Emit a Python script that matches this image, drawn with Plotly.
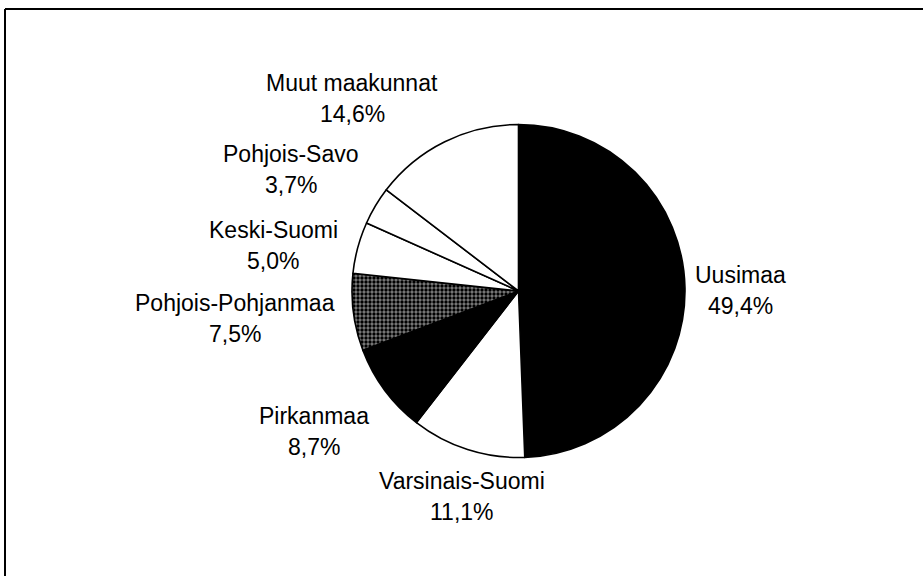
import plotly.graph_objects as go

# Data
regions = ["Uusimaa", "Varsinais-Suomi", "Pirkanmaa", "Pohjois-Pohjanmaa",
           "Keski-Suomi", "Pohjois-Savo", "Muut maakunnat"]
shares = [49.4, 11.1, 8.7, 7.5, 5.0, 3.7, 14.6]

# Styles
slice_colors = ["#000000", "#ffffff", "#000000", "#5e5e5e", "#ffffff", "#ffffff", "#ffffff"]
pattern_shapes = ["", "", "", ".", "", "", ""]

# Label centres in pixels (x, y of first line)
label_pos = {
    "Uusimaa": (740, 275),
    "Varsinais-Suomi": (462, 481),
    "Pirkanmaa": (314, 416),
    "Pohjois-Pohjanmaa": (235, 303),
    "Keski-Suomi": (273, 230),
    "Pohjois-Savo": (291, 154),
    "Muut maakunnat": (352, 83),
}

W, H = 923, 576
LINE_GAP = 31
FONT = dict(family="Liberation Sans, Arial, sans-serif", size=23, color="#000000")

fig = go.Figure()
cx, cy, r = 518.5, 291, 166.5
fig.add_trace(go.Pie(
    labels=regions,
    values=shares,
    sort=False,
    direction="clockwise",
    rotation=0,
    textinfo="none",
    hoverinfo="label+percent",
    showlegend=False,
    marker=dict(
        colors=slice_colors,
        line=dict(color="#000000", width=1.6),
        pattern=dict(shape=pattern_shapes, fgcolor="#000000", bgcolor="#808080",
                     size=4, solidity=0.55),
    ),
    domain=dict(x=[(cx - r) / W, (cx + r) / W], y=[1 - (cy + r) / H, 1 - (cy - r) / H]),
))

annotations = []
for name, val in zip(regions, shares):
    x, y = label_pos[name]
    pct = f"{val:.1f}".replace(".", ",") + "%"
    for i, txt in enumerate([name, pct]):
        annotations.append(dict(
            x=x / W, y=1 - (y + i * LINE_GAP) / H, xref="paper", yref="paper",
            text=txt, showarrow=False, xanchor="center", yanchor="middle",
            font=FONT,
        ))

shapes = [
    dict(type="line", xref="paper", yref="paper", x0=5 / W, x1=1, y0=1 - 9 / H, y1=1 - 9 / H,
         line=dict(color="#000000", width=2)),
    dict(type="line", xref="paper", yref="paper", x0=5 / W, x1=5 / W, y0=0, y1=1 - 9 / H,
         line=dict(color="#000000", width=2)),
]

fig.update_layout(
    width=W, height=H,
    margin=dict(l=0, r=0, t=0, b=0),
    paper_bgcolor="#ffffff",
    plot_bgcolor="#ffffff",
    annotations=annotations,
    shapes=shapes,
)

fig.write_html(
    "out.html",
    config={"displayModeBar": False},
    post_script="document.body.style.margin='0';document.body.style.overflow='hidden';",
)
